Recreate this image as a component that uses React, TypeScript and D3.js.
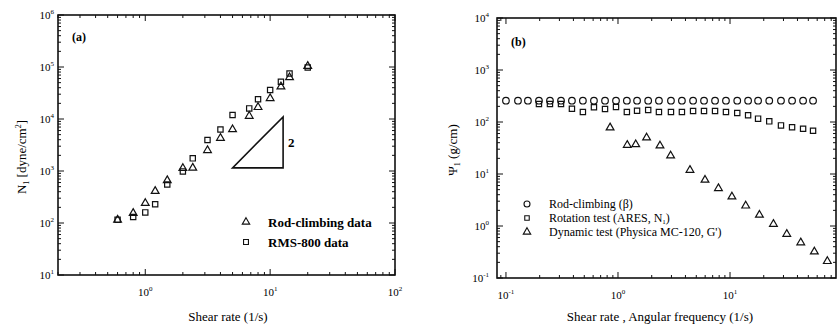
import React, { useEffect, useRef } from 'react';
import * as d3 from 'd3';

// panel (a): first normal stress difference vs shear rate
const rodShear = [0.6, 0.8, 1.0, 1.2, 1.5, 2.0, 2.4, 3.15, 4.0, 5.0, 6.8, 8.0, 10, 12.2, 14.3, 20];
const rodN1 = [115, 155, 240, 410, 660, 1130, 1150, 2500, 4300, 6300, 11400, 16800, 25000, 42000, 63000, 104000];
const rmsShear = [0.6, 0.8, 1.0, 1.2, 1.5, 2.0, 2.4, 3.15, 4.0, 5.0, 6.8, 8.0, 10, 12.2, 14.3, 20];
const rmsN1 = [115, 130, 160, 230, 550, 980, 1750, 3950, 6300, 11900, 16000, 24000, 36000, 52000, 75000, 98000];
// slope-2 guide triangle (data coords)
const slopeX = [5.0, 12.7];
const slopeY = [1150, 11000];

// panel (b): psi1 vs shear rate / angular frequency
const betaRate = [0.1, 0.128, 0.157, 0.197, 0.247, 0.31, 0.388, 0.486, 0.61, 0.766, 0.96, 1.2, 1.48, 1.86, 2.32,
  2.97, 3.72, 4.68, 5.86, 7.35, 9.2, 11.6, 14.5, 17.8, 22.4, 28.5, 35.8, 44.9, 55.1];
const betaPsi = [257, 257, 257, 257, 257, 257, 257, 257, 257, 257, 257, 257, 257, 257, 257,
  257, 257, 257, 257, 257, 257, 257, 257, 257, 257, 257, 257, 257, 257];
const aresRate = [0.197, 0.247, 0.31, 0.388, 0.486, 0.61, 0.766, 0.96, 1.2, 1.48, 1.86, 2.32, 2.97, 3.72,
  4.68, 5.86, 7.35, 9.2, 11.6, 14.5, 17.8, 22.4, 28.5, 35.8, 44.9, 55.1];
const aresPsi = [222, 222, 222, 180, 156, 192, 178, 194, 156, 165, 170, 156, 156, 156,
  163, 163, 163, 156, 149, 135, 116, 103, 86, 79, 74, 68];
const dynRate = [0.85, 1.21, 1.44, 1.8, 2.37, 2.95, 4.39, 5.98, 7.88, 10.4, 13.8, 18.3, 24.4, 32.1, 42.8, 56.6, 73.9];
const dynPsi = [78, 36, 37, 50, 35, 22.5, 11.9, 7.7, 5.3, 3.66, 2.45, 1.63, 1.09, 0.7, 0.48, 0.32, 0.21];

const W = 840;
const H = 329;
const FONT = '"Liberation Serif", "Times New Roman", serif';

const isPow10 = (t) => Math.abs(Math.log10(t) - Math.round(Math.log10(t))) < 1e-6;

const drawMarks = (g, kind, xs, ys, x, y) => {
  const pts = xs.map((v, i) => [x(v), y(ys[i])]);
  if (kind === 'circle') {
    g.selectAll(null).data(pts).enter().append('circle')
      .attr('cx', d => d[0]).attr('cy', d => d[1]).attr('r', 3.3)
      .attr('fill', 'none').attr('stroke', '#111').attr('stroke-width', 1.2);
  } else {
    const sym = d3.symbol().type(kind === 'square' ? d3.symbolSquare : d3.symbolTriangle).size(kind === 'square' ? 28 : 26);
    g.selectAll(null).data(pts).enter().append('path')
      .attr('d', sym)
      .attr('transform', d => `translate(${d[0]},${d[1]})`)
      .attr('fill', 'none').attr('stroke', '#111').attr('stroke-width', 1.2);
  }
};

const drawFrame = (g, x, y, labelGap) => {
  const [x0, x1] = x.range();
  const [y0, y1] = y.range(); // y0 bottom, y1 top
  g.append('rect').attr('x', x0).attr('y', y1).attr('width', x1 - x0).attr('height', y0 - y1)
    .attr('fill', 'none').attr('stroke', '#111').attr('stroke-width', 1.6);

  x.ticks().forEach(t => {
    const len = isPow10(t) ? 6 : 3;
    const px = x(t);
    g.append('line').attr('x1', px).attr('x2', px).attr('y1', y0).attr('y2', y0 - len).attr('stroke', '#111');
    g.append('line').attr('x1', px).attr('x2', px).attr('y1', y1).attr('y2', y1 + len).attr('stroke', '#111');
    if (isPow10(t)) {
      const txt = g.append('text').attr('x', px).attr('y', y0 + 21).attr('text-anchor', 'middle')
        .attr('font-size', 11).attr('font-family', FONT).text('10');
      txt.append('tspan').attr('dy', -5).attr('font-size', 7).text(Math.round(Math.log10(t)));
    }
  });
  y.ticks().forEach(t => {
    const len = isPow10(t) ? 6 : 3;
    const py = y(t);
    g.append('line').attr('x1', x0).attr('x2', x0 + len).attr('y1', py).attr('y2', py).attr('stroke', '#111');
    g.append('line').attr('x1', x1).attr('x2', x1 - len).attr('y1', py).attr('y2', py).attr('stroke', '#111');
    if (isPow10(t)) {
      const txt = g.append('text').attr('x', x0 - labelGap).attr('y', py + 4).attr('text-anchor', 'end')
        .attr('font-size', 11).attr('font-family', FONT).text('10');
      txt.append('tspan').attr('dy', -5).attr('font-size', 7).text(Math.round(Math.log10(t)));
    }
  });
};

const App = () => {
  const ref = useRef(null);

  useEffect(() => {
    const svg = d3.select(ref.current);
    svg.selectAll('*').remove();

    // ---------- panel (a)
    const xa = d3.scaleLog().domain([0.2, 100]).range([58, 395]);
    const ya = d3.scaleLog().domain([10, 1e6]).range([275, 15]);
    const ga = svg.append('g');
    drawFrame(ga, xa, ya, 4);

    ga.append('path')
      .attr('d', `M${xa(slopeX[0])},${ya(slopeY[0])}L${xa(slopeX[1])},${ya(slopeY[0])}L${xa(slopeX[1])},${ya(slopeY[1])}Z`)
      .attr('fill', 'none').attr('stroke', '#111').attr('stroke-width', 1.6);
    ga.append('text').attr('x', xa(slopeX[1]) + 5).attr('y', (ya(slopeY[0]) + ya(slopeY[1])) / 2 + 5)
      .attr('font-size', 13).attr('font-weight', 'bold').attr('font-family', FONT).text('2');

    drawMarks(ga, 'square', rmsShear, rmsN1, xa, ya);
    drawMarks(ga, 'triangle', rodShear, rodN1, xa, ya);

    ga.append('text').attr('x', 72).attr('y', 41).attr('font-size', 12).attr('font-weight', 'bold')
      .attr('font-family', FONT).text('(a)');

    const legA = [['triangle', 'Rod-climbing data'], ['square', 'RMS-800 data']];
    legA.forEach(([k, label], i) => {
      const ly = 222 + i * 20;
      const sym = d3.symbol().type(k === 'square' ? d3.symbolSquare : d3.symbolTriangle).size(24);
      ga.append('path').attr('d', sym).attr('transform', `translate(246,${ly})`)
        .attr('fill', 'none').attr('stroke', '#111').attr('stroke-width', 1.1);
      ga.append('text').attr('x', 268).attr('y', ly + 4.5).attr('font-size', 13).attr('font-weight', 'bold')
        .attr('font-family', FONT).text(label);
    });

    ga.append('text').attr('x', 228).attr('y', 321).attr('text-anchor', 'middle').attr('font-size', 13)
      .attr('font-family', FONT).text('Shear rate (1/s)');
    const yla = ga.append('text').attr('transform', 'translate(26,157) rotate(-90)').attr('text-anchor', 'middle')
      .attr('font-size', 13).attr('font-family', FONT).text('N');
    yla.append('tspan').attr('dy', 3).attr('font-size', 8).text('1');
    yla.append('tspan').attr('dy', -3).text(' [dyne/cm');
    yla.append('tspan').attr('dy', -5).attr('font-size', 8).text('2');
    yla.append('tspan').attr('dy', 5).text(']');

    // ---------- panel (b)
    const xb = d3.scaleLog().domain([Math.pow(10, -1.08), Math.pow(10, 1.946)]).range([497, 836]);
    const yb = d3.scaleLog().domain([0.1, 1e4]).range([278, 18]);
    const gb = svg.append('g');
    drawFrame(gb, xb, yb, 8);

    drawMarks(gb, 'circle', betaRate, betaPsi, xb, yb);
    drawMarks(gb, 'square', aresRate, aresPsi, xb, yb);
    drawMarks(gb, 'triangle', dynRate, dynPsi, xb, yb);

    gb.append('text').attr('x', 511).attr('y', 46).attr('font-size', 12).attr('font-weight', 'bold')
      .attr('font-family', FONT).text('(b)');

    const legB = ['circle', 'square', 'triangle'];
    legB.forEach((k, i) => {
      const ly = 204 + i * 14;
      if (k === 'circle') {
        gb.append('circle').attr('cx', 527).attr('cy', ly).attr('r', 3)
          .attr('fill', 'none').attr('stroke', '#111').attr('stroke-width', 1.1);
      } else {
        const sym = d3.symbol().type(k === 'square' ? d3.symbolSquare : d3.symbolTriangle).size(k === 'square' ? 20 : 24);
        gb.append('path').attr('d', sym).attr('transform', `translate(527,${ly})`)
          .attr('fill', 'none').attr('stroke', '#111').attr('stroke-width', 1.1);
      }
      const t = gb.append('text').attr('x', 549).attr('y', ly + 4).attr('font-size', 12).attr('font-family', FONT);
      if (k === 'circle') t.text('Rod-climbing (β)');
      if (k === 'square') {
        t.text('Rotation test (ARES, N');
        t.append('tspan').attr('dy', 2).attr('font-size', 7).text('1');
        t.append('tspan').attr('dy', -2).text(')');
      }
      if (k === 'triangle') t.text("Dynamic test (Physica MC-120, G')");
    });

    gb.append('text').attr('x', 660).attr('y', 321).attr('text-anchor', 'middle').attr('font-size', 13)
      .attr('font-family', FONT).text('Shear rate , Angular frequency (1/s)');
    const ylb = gb.append('text').attr('transform', 'translate(457,150) rotate(-90)').attr('text-anchor', 'middle')
      .attr('font-size', 13).attr('font-family', FONT).text('Ψ');
    ylb.append('tspan').attr('dy', 3).attr('font-size', 8).text('1');
    ylb.append('tspan').attr('dy', -3).text(' (g/cm)');
  }, []);

  return (
    <svg ref={ref} width={W} height={H}
      style={{ position: 'absolute', left: 0, top: 0, background: '#fff', display: 'block' }} />
  );
};

export default App;
